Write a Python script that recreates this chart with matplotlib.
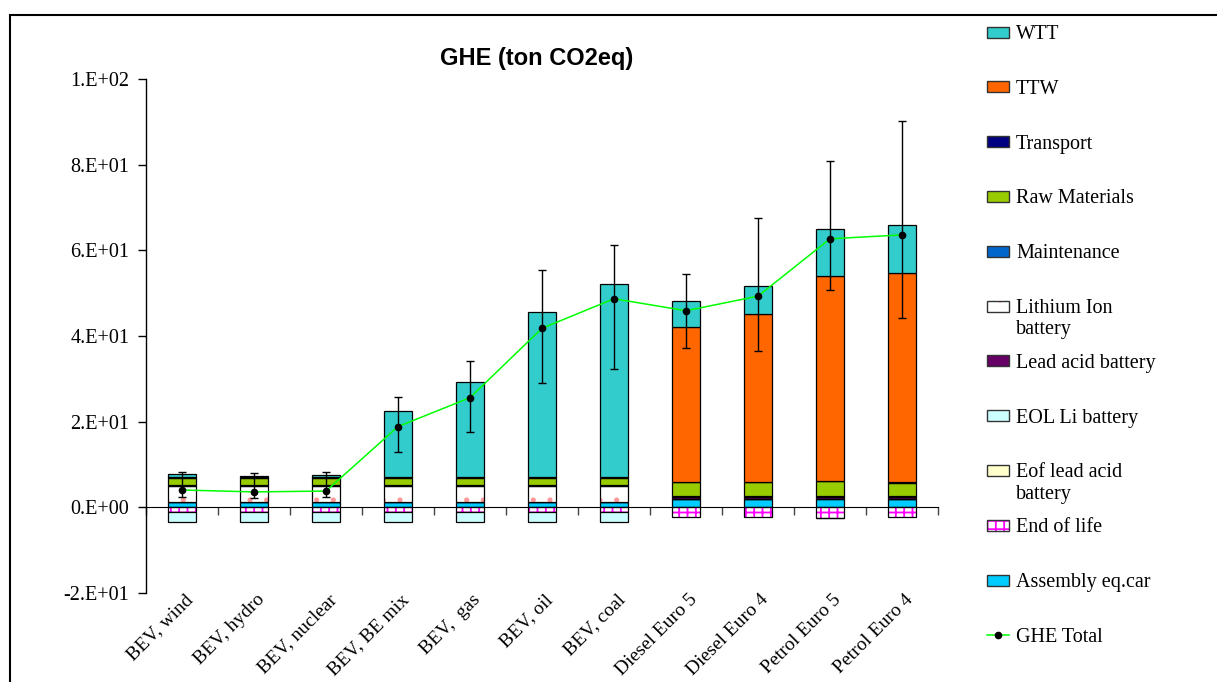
import numpy as np
import matplotlib.pyplot as plt
from matplotlib.patches import Rectangle
from matplotlib.lines import Line2D

plt.rcParams['font.family'] = ['Liberation Serif', 'DejaVu Serif']
plt.rcParams['hatch.linewidth'] = 1.3

categories = ['BEV, wind', 'BEV, hydro', 'BEV, nuclear', 'BEV, BE mix', 'BEV,  gas',
              'BEV, oil', 'BEV, coal', 'Diesel Euro 5', 'Diesel Euro 4',
              'Petrol Euro 5', 'Petrol Euro 4']

# contributions per vehicle (ton CO2eq), stacked bottom to top in this order
assembly = [1.2, 1.2, 1.2, 1.2, 1.2, 1.2, 1.2, 2.0, 2.0, 2.0, 2.0]
end_of_life = [-1.0, -1.0, -1.0, -1.0, -1.0, -1.0, -1.0, -2.3, -2.3, -2.4, -2.3]
eof_lead_acid = [0, 0, 0, 0, 0, 0, 0, 0, 0, -0.1, 0]
eol_li = [-2.5, -2.5, -2.5, -2.5, -2.5, -2.5, -2.5, 0, 0, 0, 0]
lead_acid = [0.1, 0.1, 0.1, 0.1, 0.1, 0.1, 0.1, 0.3, 0.3, 0.3, 0.3]
li_ion = [3.6, 3.6, 3.6, 3.6, 3.6, 3.6, 3.6, 0, 0, 0, 0]
maintenance = [0.2, 0.2, 0.2, 0.2, 0.2, 0.2, 0.2, 0.25, 0.25, 0.25, 0.25]
raw_materials = [1.85, 1.85, 1.85, 1.85, 1.85, 1.85, 1.85, 3.3, 3.3, 3.5, 3.2]
transport = [0.05] * 11
ttw = [0, 0, 0, 0, 0, 0, 0, 36.3, 39.3, 48.0, 48.8]
wtt = [0.8, 0.2, 0.5, 15.4, 22.2, 38.6, 45.2, 5.9, 6.5, 10.8, 11.3]

ghe_total = [4.05, 3.6, 3.8, 18.85, 25.6, 41.8, 48.7, 45.9, 49.3, 62.7, 63.6]
ghe_high = [8.3, 8.1, 8.3, 25.7, 34.2, 55.3, 61.2, 54.5, 67.6, 80.8, 90.3]
ghe_low = [2.3, 2.1, 2.3, 13.0, 17.5, 29.0, 32.4, 37.3, 36.4, 50.8, 44.3]

series = [
    ('Assembly eq.car', assembly, '#00CCFF', None, None),
    ('End of life', end_of_life, 'white', '++', '#FF00FF'),
    ('Eof lead acid\nbattery', eof_lead_acid, '#FFFFCC', None, None),
    ('EOL Li battery', eol_li, '#CCFFFF', None, None),
    ('Lead acid battery', lead_acid, '#660066', None, None),
    ('Lithium Ion\nbattery', li_ion, 'white', '.', '#FF9999'),
    ('Maintenance', maintenance, '#0066CC', None, None),
    ('Raw Materials', raw_materials, '#99CC00', None, None),
    ('Transport', transport, '#000080', None, None),
    ('TTW', ttw, '#FF6600', None, None),
    ('WTT', wtt, '#33CCCC', None, None),
]

W, H = 1217, 682
fig = plt.figure(figsize=(W / 100, H / 100), dpi=100)
ax = fig.add_axes([146 / W, 1 - 593 / H, 792 / W, 514 / H])

x = np.arange(len(categories))
bw = 0.39
pos = np.zeros(len(x))
neg = np.zeros(len(x))
for name, vals, color, hatch, hcolor in series:
    v = np.array(vals, dtype=float)
    bottom = np.where(v >= 0, pos, neg)
    if hatch:
        ax.bar(x, v, bw, bottom=bottom, color=color, edgecolor=hcolor,
               hatch=hatch, linewidth=0, zorder=2)
        ax.bar(x, v, bw, bottom=bottom, fill=False, edgecolor='black',
               linewidth=0.9, zorder=2)
    else:
        ax.bar(x, v, bw, bottom=bottom, color=color, edgecolor='black',
               linewidth=0.9, zorder=2)
    pos += np.where(v >= 0, v, 0)
    neg += np.where(v < 0, v, 0)

# total with min/max range
tot = np.array(ghe_total)
ax.plot(x, tot, color='#00FF00', lw=1.1, marker='o', ms=4.5,
        mfc='black', mec='black', zorder=3)
yerr = [tot - np.array(ghe_low), np.array(ghe_high) - tot]
ax.errorbar(x, tot, yerr=yerr, fmt='none', ecolor='black', elinewidth=1,
            capsize=2.8, capthick=1, zorder=4)

ax.set_xlim(-0.5, len(x) - 0.5)
ax.set_ylim(-20, 100)
yt = np.arange(-20, 101, 20)
ax.set_yticks(yt, ['%#.0E' % v for v in yt], fontsize=14.5)
ax.tick_params(axis='y', direction='out', length=6, width=1, pad=6)
ax.set_xticks([])
ax.set_xticks(np.arange(-0.5, len(x)), minor=True)
ax.tick_params(axis='x', which='minor', direction='out', length=6,
               width=1, color='#444444')
ax.spines['bottom'].set_position(('data', 0))
ax.spines['top'].set_visible(False)
ax.spines['right'].set_visible(False)
ax.spines['left'].set_linewidth(1)

for xi, lab in zip(x, categories):
    ax.text(xi + 0.03, -19.6, lab, rotation=45, rotation_mode='anchor',
            ha='right', va='top', fontsize=14)

fig.text(537 / W, 1 - 58 / H, 'GHE (ton CO2eq)', ha='center', va='center',
         family=['Liberation Sans', 'DejaVu Sans'], weight='bold', fontsize=17)

# legend, one row every 54.8 px on the right
rows = [(s[0], s[2], s[3], s[4]) for s in series[::-1]]
for k, (name, color, hatch, hcolor) in enumerate(rows):
    yc = 32 + k * 54.8
    if hatch:
        fig.add_artist(Rectangle((987 / W, 1 - (yc + 5.5) / H), 22 / W, 11 / H,
                                 facecolor=color, edgecolor=hcolor, hatch=hatch,
                                 linewidth=0, transform=fig.transFigure))
        fig.add_artist(Rectangle((987 / W, 1 - (yc + 5.5) / H), 22 / W, 11 / H,
                                 fill=False, edgecolor='#333333', linewidth=1,
                                 transform=fig.transFigure))
    else:
        fig.add_artist(Rectangle((987 / W, 1 - (yc + 5.5) / H), 22 / W, 11 / H,
                                 facecolor=color, edgecolor='#333333', linewidth=1,
                                 transform=fig.transFigure))
    fig.text(1016 / W, 1 - (yc - 7) / H, name, ha='left', va='top',
             fontsize=14.5, linespacing=1.15)
yc = 32 + len(rows) * 54.8
fig.add_artist(Line2D([987 / W, 1009 / W], [1 - yc / H] * 2, color='#00FF00',
                      lw=1.1, transform=fig.transFigure))
fig.add_artist(Line2D([998 / W], [1 - yc / H], marker='o', ms=4.5, color='black',
                      transform=fig.transFigure))
fig.text(1016 / W, 1 - (yc - 7) / H, 'GHE Total', ha='left', va='top',
         fontsize=14.5)

# outer frame
fig.add_artist(Rectangle((10 / W, -0.1), 1.2, 1.1 - 15 / H, fill=False,
                         edgecolor='black', linewidth=1.5,
                         transform=fig.transFigure))

fig.savefig('out.png', dpi=100)
